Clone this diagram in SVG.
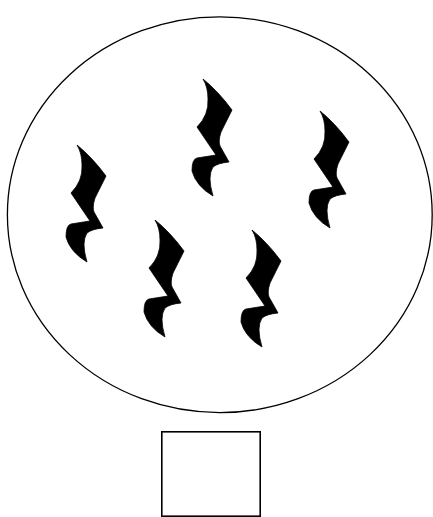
<svg xmlns="http://www.w3.org/2000/svg" xmlns:xlink="http://www.w3.org/1999/xlink" width="433" height="517" viewBox="0 0 433 517">
  <style>
    .outline { fill: #ffffff; stroke: #000000; }
    .rest { fill: #000000; stroke: #000000; stroke-width: 0.8; stroke-linejoin: round; }
  </style>
  <defs>
    <path id="qrest" class="rest" d="M0,0 Q15,12 29,31 L18,53 Q15,62 17,67 L26,83 Q15,84 10,88 Q4,97 10,117 Q-7,107 -11,92 Q-11,80 -6,79 L13,76 L-6,48 Q6,36 5,20 Q5,8 0,0 Z"/>
  </defs>
  <g id="ellipse-node">
    <ellipse class="outline" cx="219.8" cy="214.7" rx="212.4" ry="197.9" stroke-width="1.3"/>
  </g>
  <g id="rest-1"><use xlink:href="#qrest" href="#qrest" x="77" y="145"/></g>
  <g id="rest-2"><use xlink:href="#qrest" href="#qrest" x="203" y="79"/></g>
  <g id="rest-3"><use xlink:href="#qrest" href="#qrest" x="155" y="220"/></g>
  <g id="rest-4"><use xlink:href="#qrest" href="#qrest" x="252" y="230"/></g>
  <g id="rest-5"><use xlink:href="#qrest" href="#qrest" x="320" y="111"/></g>
  <g id="box-node">
    <rect class="outline" x="161.8" y="431.8" width="98.4" height="84.4" stroke-width="1.6"/>
  </g>
  <g id="connectors"></g>
</svg>
